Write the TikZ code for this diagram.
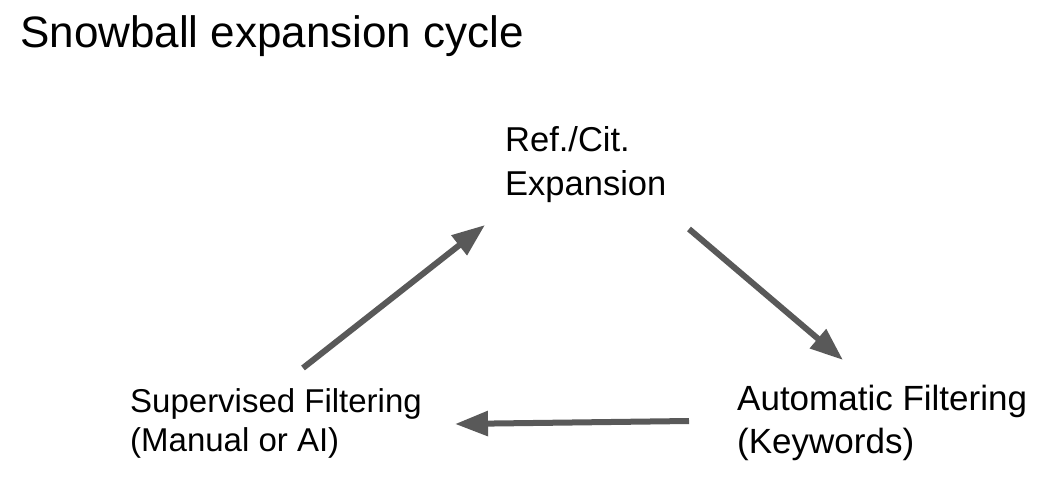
\documentclass[tikz,border=0pt]{standalone}
\usepackage{fontspec}
\setmainfont{Liberation Sans}
\usetikzlibrary{positioning,arrows.meta}
\definecolor{arrowgray}{HTML}{595959}

\begin{document}
\begin{tikzpicture}[
  x=1pt,y=-1pt,
  >={Triangle[length=33pt,width=24pt]},
  stagetext/.style={anchor=base west,inner sep=0pt,align=left},
  cyclearrow/.style={->,line width=6pt,draw=arrowgray}]
\useasboundingbox (0,0) rectangle (1059,486);

\node[anchor=base west,inner sep=0pt,font=\fontsize{44}{52}\selectfont] (title) at (20,48) {Snowball expansion cycle};

% base anchor sits on the last line
\node[stagetext,font=\fontsize{34.5}{44}\selectfont] (expansion) at (505,196) {Ref./Cit.\\Expansion};
\node[stagetext,font=\fontsize{35}{43}\selectfont] (automatic) at (737,453) {Automatic Filtering\\(Keywords)};
\node[stagetext,font=\fontsize{33}{39}\selectfont] (supervised) at (130,451) {Supervised Filtering\\(Manual or AI)};

% arrow ends
\coordinate (sup out) at (303,368);
\coordinate (exp in) at (485,225);
\coordinate (exp out) at (689,229);
\coordinate (auto in) at (843,360);
\coordinate (auto out) at (689,421);
\coordinate (sup in) at (455,424);

\draw[cyclearrow] (sup out) -- (exp in);
\draw[cyclearrow] (exp out) -- (auto in);
\draw[cyclearrow] (auto out) -- (sup in);
\end{tikzpicture}
\end{document}
